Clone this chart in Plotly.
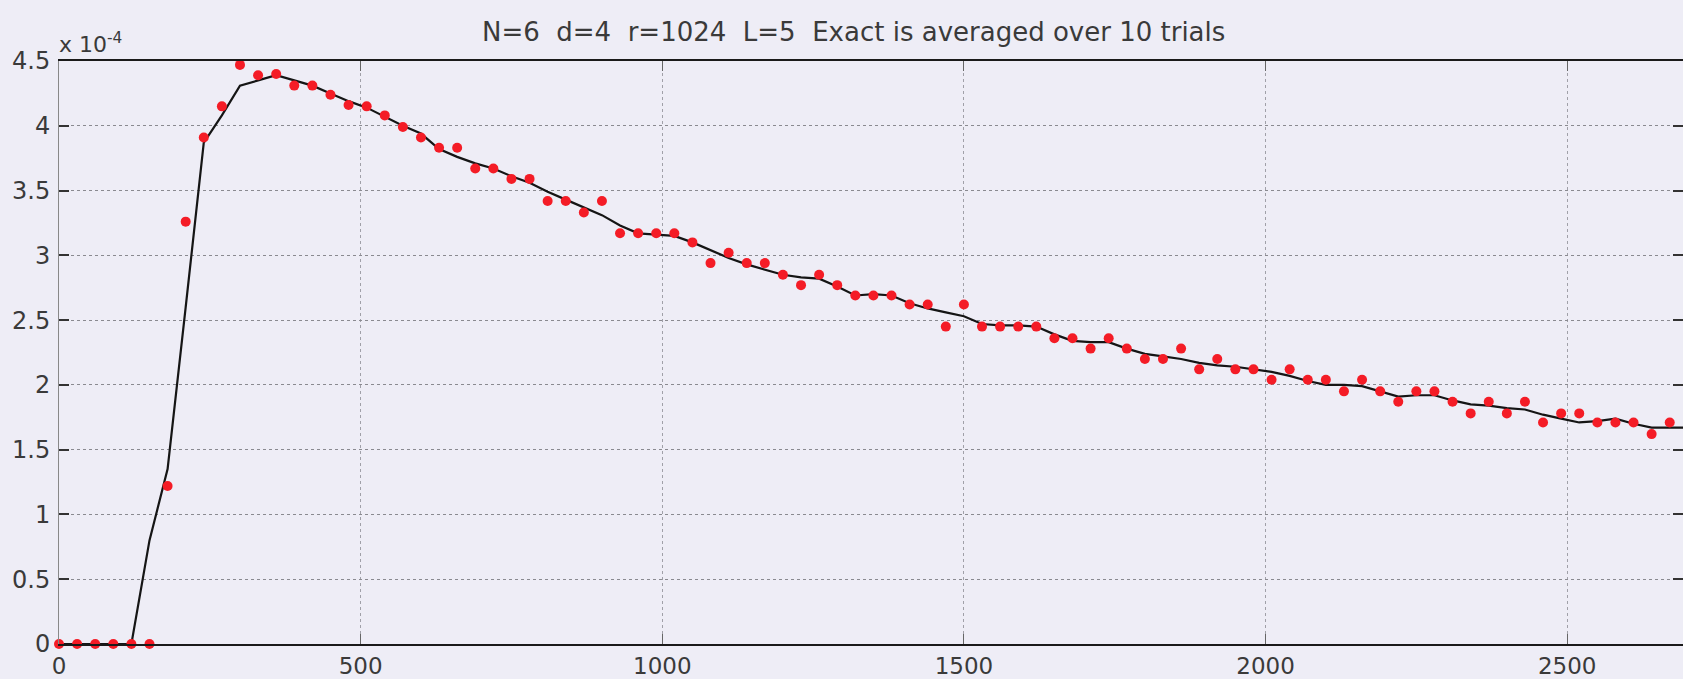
import plotly.graph_objects as go

# x positions (samples every 30 units)
x_vals = list(range(0, 2701, 30))

# Red dots: estimated values (units of 1e-4)
estimate = [0, 0, 0, 0, 0, 0, 1.22, 3.26, 3.91, 4.15,
            4.47, 4.39, 4.40, 4.31, 4.31, 4.24, 4.16, 4.15, 4.08, 3.99,
            3.91, 3.83, 3.83, 3.67, 3.67, 3.59, 3.59, 3.42, 3.42, 3.33,
            3.42, 3.17, 3.17, 3.17, 3.17, 3.10, 2.94, 3.02, 2.94, 2.94,
            2.85, 2.77, 2.85, 2.77, 2.69, 2.69, 2.69, 2.62, 2.62, 2.45,
            2.62, 2.45, 2.45, 2.45, 2.45, 2.36, 2.36, 2.28, 2.36, 2.28,
            2.20, 2.20, 2.28, 2.12, 2.20, 2.12, 2.12, 2.04, 2.12, 2.04,
            2.04, 1.95, 2.04, 1.95, 1.87, 1.95, 1.95, 1.87, 1.78, 1.87,
            1.78, 1.87, 1.71, 1.78, 1.78, 1.71, 1.71, 1.71, 1.62, 1.71,
            1.71]

# Black line: exact (averaged) values (units of 1e-4)
exact = [0, 0, 0, 0, 0, 0.80, 1.35, 2.60, 3.87, 4.08,
         4.31, 4.35, 4.39, 4.35, 4.31, 4.25, 4.19, 4.14, 4.07, 4.00,
         3.94, 3.82, 3.76, 3.71, 3.67, 3.61, 3.56, 3.49, 3.43, 3.37,
         3.31, 3.23, 3.17, 3.16, 3.15, 3.10, 3.04, 2.98, 2.93, 2.89,
         2.85, 2.83, 2.82, 2.76, 2.69, 2.70, 2.69, 2.63, 2.59, 2.56,
         2.53, 2.47, 2.46, 2.46, 2.45, 2.39, 2.34, 2.33, 2.33, 2.28,
         2.24, 2.22, 2.20, 2.17, 2.15, 2.14, 2.12, 2.10, 2.07, 2.03,
         2.00, 2.00, 1.99, 1.95, 1.91, 1.92, 1.92, 1.88, 1.85, 1.84,
         1.82, 1.81, 1.77, 1.74, 1.71, 1.72, 1.74, 1.70, 1.67, 1.67,
         1.67]

x_ticks = [0, 500, 1000, 1500, 2000, 2500]
y_ticks = [0, 0.5, 1, 1.5, 2, 2.5, 3, 3.5, 4, 4.5]
y_tick_text = ["0", "0.5", "1", "1.5", "2", "2.5", "3", "3.5", "4", "4.5"]

title_text = "N=6  d=4  r=1024  L=5  Exact is averaged over 10 trials"

BG = "#eeedf6"
FONT = "DejaVu Sans, Verdana, sans-serif"

fig = go.Figure()
fig.add_trace(go.Scatter(
    x=x_vals, y=exact, mode="lines",
    line=dict(color="#151515", width=2.2),
    cliponaxis=False, showlegend=False, hoverinfo="skip"))
fig.add_trace(go.Scatter(
    x=x_vals, y=estimate, mode="markers",
    marker=dict(color="#f41c26", size=10, line=dict(width=0)),
    cliponaxis=False, showlegend=False))

fig.update_layout(
    width=1683, height=679,
    margin=dict(l=59, r=0, t=61, b=35),
    paper_bgcolor=BG, plot_bgcolor=BG,
    font=dict(family=FONT, size=23, color="#3a3a3a"),
    xaxis=dict(
        range=[0, 2692], tickvals=x_ticks, ticktext=[str(t) for t in x_ticks],
        showgrid=True, gridcolor="#a0a0a8", griddash="dot", gridwidth=1,
        zeroline=False, showline=True, linecolor="#1a1a1a", linewidth=2,
        mirror="ticks", ticks="inside", ticklen=10, tickcolor="#666",
        tickwidth=1, ticklabelstandoff=0,
        tickfont=dict(family=FONT, size=23, color="#3a3a3a")),
    yaxis=dict(
        range=[0, 4.5], tickvals=y_ticks, ticktext=y_tick_text,
        showgrid=True, gridcolor="#8a8a90", griddash="dot", gridwidth=1,
        zeroline=False, showline=True, linecolor="#888", linewidth=1,
        mirror="ticks", ticks="inside", ticklen=10, tickcolor="#333",
        tickwidth=2, ticklabelstandoff=3,
        tickfont=dict(family=FONT, size=24, color="#3a3a3a")),
    annotations=[
        dict(text=title_text, xref="paper", yref="paper",
             x=0.489, y=1.0497, xanchor="center", yanchor="middle",
             showarrow=False, font=dict(family=FONT, size=26, color="#3a3a3a")),
        dict(text="x 10<sup>-4</sup>", xref="paper", yref="paper",
             x=-0.001, y=1.004, xanchor="left", yanchor="bottom",
             showarrow=False, font=dict(family=FONT, size=22, color="#3a3a3a")),
    ],
)

fig.write_html("out.html")
